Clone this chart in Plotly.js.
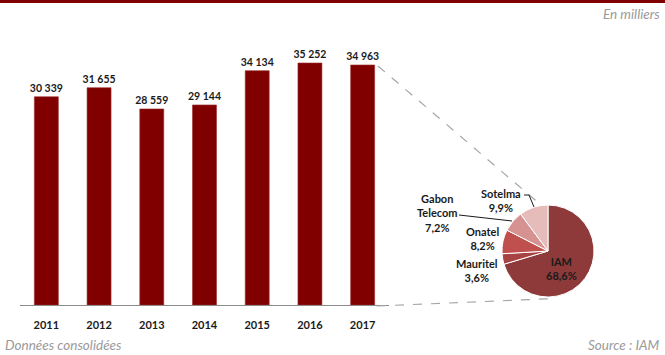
<!DOCTYPE html>
<html>
<head>
<meta charset="utf-8">
<script src="https://cdn.plot.ly/plotly-3.0.1.min.js"></script>
<style>html,body{margin:0;padding:0;background:#fff}#chart{width:665px;height:355px}</style>
</head>
<body>
<div id="chart"></div>
<script>
// ---- data ----
const years = ['2011', '2012', '2013', '2014', '2015', '2016', '2017'];
const subscribers = [30339, 31655, 28559, 29144, 34134, 35252, 34963];
const operators = ['IAM', 'Mauritel', 'Onatel', 'Gabon Telecom', 'Sotelma'];
const operatorLabels = ['IAM', 'Mauritel', 'Onatel', 'Gabon<br>Telecom', 'Sotelma'];
const shares = [68.6, 3.6, 8.2, 7.2, 9.9];
const unitNote = 'En milliers';
const footLeft = 'Données consolidées';
const footRight = 'Source : IAM';

// ---- helpers (pixel -> paper) ----
const W = 665, H = 355;
const px = x => x / W;
const py = y => 1 - y / H;
const FONT = 'Lato, "Open Sans", sans-serif';

const sliceColors = ['#8e3a3a', '#a84343', '#c0504d', '#d69290', '#e6bcbb'];

const barTrace = {
  type: 'bar',
  x: years,
  y: subscribers,
  marker: {color: '#800000', line: {color: '#9a3030', width: 0.6}},
  texttemplate: '<b>%{y:,}</b>',
  textposition: 'outside',
  constraintext: 'none',
  cliponaxis: false,
  textfont: {family: FONT, size: 10.5, color: '#1a1a1a'},
  hoverinfo: 'skip',
  xaxis: 'x', yaxis: 'y'
};

const pieTrace = {
  type: 'pie',
  labels: operators,
  values: shares,
  sort: false,
  direction: 'clockwise',
  rotation: 0,
  textinfo: 'none',
  marker: {colors: sliceColors, line: {color: '#ffffff', width: 1}},
  domain: {x: [px(502), px(594)], y: [py(297), py(205)]},
  showlegend: false,
  hoverinfo: 'skip'
};

// label positions for pie annotations (pixel space)
const labelPos = [
  [561, 268], // IAM
  [477, 270], // Mauritel
  [482, 238], // Onatel
  [437, 213], // Gabon Telecom
  [501, 200]  // Sotelma
];
const fmt = v => v.toFixed(1).replace('.', ',') + '%';
const pieAnnotations = operators.map((op, i) => ({
  xref: 'paper', yref: 'paper',
  x: px(labelPos[i][0]), y: py(labelPos[i][1]),
  xanchor: 'center', yanchor: 'middle',
  text: '<b>' + operatorLabels[i] + '<br>' + fmt(shares[i]) + '</b>',
  showarrow: false,
  font: {family: FONT, size: 11, color: '#1a1a1a'},
  align: 'center'
}));

const noteFont = {family: FONT, size: 13.5, color: '#9a9a9a'};

const layout = {
  width: W, height: H,
  margin: {l: 0, r: 0, t: 0, b: 0},
  paper_bgcolor: '#ffffff', plot_bgcolor: '#ffffff',
  separators: ', ',
  showlegend: false,
  bargap: 0.545,
  xaxis: {
    domain: [px(20), px(389)],
    type: 'category',
    showline: true, linecolor: '#8c8c8c', linewidth: 1,
    showgrid: false, zeroline: false,
    ticks: '', ticklabelstandoff: 10,
    tickfont: {family: FONT, size: 11, color: '#1a1a1a', weight: 'bold'},
    fixedrange: true
  },
  yaxis: {
    domain: [py(305), py(30.4)],
    range: [0, 40000],
    visible: false,
    showgrid: false, zeroline: false,
    fixedrange: true
  },
  shapes: [
    {type: 'rect', xref: 'paper', yref: 'paper', x0: 0, x1: 1, y0: py(3), y1: 1,
      fillcolor: '#800000', line: {width: 0}},
    {type: 'line', xref: 'paper', yref: 'paper', x0: px(378), y0: py(66), x1: px(541), y1: py(205),
      line: {color: '#a6a6a6', width: 1.2, dash: 'dash'}},
    {type: 'line', xref: 'paper', yref: 'paper', x0: px(377), y0: py(306), x1: px(556), y1: py(298.5),
      line: {color: '#a6a6a6', width: 1.2, dash: 'dash'}},
    // leader lines
    {type: 'line', xref: 'paper', yref: 'paper', x0: px(459), y0: py(215), x1: px(512), y1: py(221),
      line: {color: '#1a1a1a', width: 1}},
    {type: 'path', xref: 'paper', yref: 'paper',
      path: 'M ' + px(524) + ' ' + py(195) + ' L ' + px(529) + ' ' + py(195) + ' L ' + px(534) + ' ' + py(207),
      line: {color: '#1a1a1a', width: 1}}
  ],
  annotations: [
    {xref: 'paper', yref: 'paper', x: px(662), y: py(14), xanchor: 'right', yanchor: 'middle',
      text: '<i>' + unitNote + '</i>', showarrow: false, font: noteFont},
    {xref: 'paper', yref: 'paper', x: px(3), y: py(345), xanchor: 'left', yanchor: 'middle',
      text: '<i>' + footLeft + '</i>', showarrow: false, font: noteFont},
    {xref: 'paper', yref: 'paper', x: px(662), y: py(345), xanchor: 'right', yanchor: 'middle',
      text: '<i>' + footRight + '</i>', showarrow: false, font: noteFont}
  ].concat(pieAnnotations)
};

Plotly.newPlot('chart', [barTrace, pieTrace], layout, {displayModeBar: false, staticPlot: true});
</script>
</body>
</html>
